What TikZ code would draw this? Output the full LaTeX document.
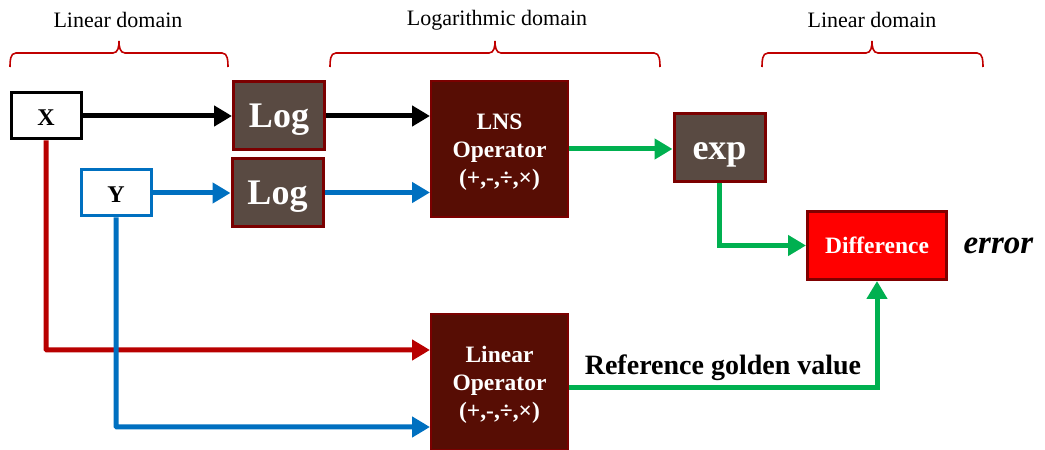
\documentclass[tikz,border=0pt]{standalone}
\usepackage{fontspec}
\setmainfont{Liberation Serif}
\usetikzlibrary{arrows.meta,calc}
\definecolor{logfill}{HTML}{594A42}
\definecolor{opfill}{HTML}{570D04}
\definecolor{boxborder}{HTML}{7B0000}
\definecolor{diffborder}{HTML}{800000}
\definecolor{lred}{HTML}{B80000}
\definecolor{lblue}{HTML}{0070C0}
\definecolor{lgreen}{HTML}{00B050}
\definecolor{brc}{HTML}{C00000}
\begin{document}
\begin{tikzpicture}[x=1pt,y=1pt,
  inbox/.style={draw, line width=3pt, fill=white, minimum width=70pt, minimum height=46pt, inner sep=0pt, text height=19pt, text depth=0pt, font=\fontsize{24}{28}\selectfont\bfseries},
  logbox/.style={draw=boxborder, line width=3pt, fill=logfill, text=white, minimum width=91pt, minimum height=68pt, inner sep=0pt, text height=25pt, text depth=0pt, font=\fontsize{36}{40}\selectfont\bfseries},
  opbox/.style={draw=boxborder, line width=2pt, fill=opfill, text=white, minimum width=137pt, minimum height=136pt, inner sep=0pt, align=center, font=\fontsize{23.5}{28}\selectfont\bfseries},
  diffbox/.style={draw=diffborder, line width=3pt, fill=red, text=white, minimum width=139pt, minimum height=68pt, inner sep=0pt, font=\fontsize{23.5}{26}\selectfont\bfseries},
  conn/.style={line width=5pt, -{Triangle[length=18pt,width=20pt]}},
  domlabel/.style={font=\fontsize{22}{24}\selectfont},
  brace/.style={draw=brc, line width=1.6pt}
]
\useasboundingbox (0,0) rectangle (1045,450);

% domain labels
\node[domlabel] (dl1) at (118,430) {Linear domain};
\node[domlabel] (dl2) at (497,430) {Logarithmic domain};
\node[domlabel] (dl3) at (872,430) {Linear domain};

% braces
\draw[brace] (10,383) to[out=90,in=180] (16,397) -- (113,397) to[out=0,in=-90] (119,409) to[out=-90,in=180] (125,397) -- (222,397) to[out=0,in=90] (228,383);
\draw[brace] (330,383) to[out=90,in=180] (336,397) -- (489,397) to[out=0,in=-90] (495,409) to[out=-90,in=180] (501,397) -- (654,397) to[out=0,in=90] (660,383);
\draw[brace] (762,383) to[out=90,in=180] (768,397) -- (866,397) to[out=0,in=-90] (872,409) to[out=-90,in=180] (878,397) -- (977,397) to[out=0,in=90] (983,383);

% nodes
\node[inbox, draw=black] (X) at (46,334) {X};
\node[inbox, draw=lblue] (Y) at (116,257) {Y};
\node[logbox] (log1) at (279,334.5) {Log};
\node[logbox] (log2) at (277.5,257.5) {Log};
\node[opbox] (lns) at (499.5,301) {\rule{0pt}{23pt}LNS\\Operator\\(+,-,÷,×)};
\node[logbox] (exp) at (719.5,302.5) {exp};
\node[diffbox] (diff) at (877,204.5) {Difference};
\node[opbox] (linop) at (499.5,67.5) {\rule{0pt}{22pt}Linear\\Operator\\(+,-,÷,×)};
\node[font=\fontsize{33}{36}\selectfont\bfseries\itshape, anchor=west] (err) at ([xshift=12pt]diff.east) {error};

% connectors
\draw[conn, black] (X.east) -- (log1.west |- X.east);
\draw[conn, black] (log1.east |- X.east) -- (lns.west |- X.east);
\draw[conn, lblue] (Y.east) -- (log2.west |- Y.east);
\draw[conn, lblue] (log2.east) -- (lns.west |- log2.east);
\draw[conn, lgreen] (lns.east) -- (exp.west |- lns.east);
\draw[conn, lgreen] (exp.south) |- (diff.west);
\draw[conn, lgreen] ([yshift=-5.5pt]linop.east) -| node[pos=0.25, above=1pt, text=black, font=\fontsize{28}{30}\selectfont\bfseries] (ref) {Reference golden value} (diff.south);
\draw[conn, lred, rounded corners=1pt] (X.south) |- ([yshift=32.5pt]linop.west);
\draw[conn, lblue, rounded corners=1pt] (Y.south) |- ([yshift=-44.5pt]linop.west);
\end{tikzpicture}
\end{document}
